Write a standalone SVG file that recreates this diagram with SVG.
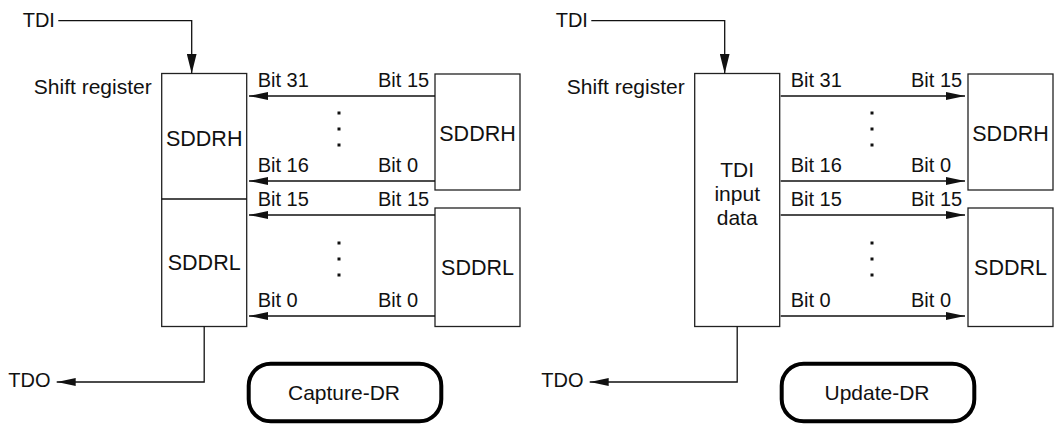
<svg xmlns="http://www.w3.org/2000/svg" width="1060" height="434" viewBox="0 0 1060 434">
<style>
text{font-family:"Liberation Sans",Arial,sans-serif;font-size:20px;fill:#111}
.big{font-size:21.5px}
.m{font-size:21px}
.box{fill:#fff;stroke:#222;stroke-width:1.3}
.ln{fill:none;stroke:#111;stroke-width:1.3}
.state{fill:#fff;stroke:#000;stroke-width:4}
.mid{text-anchor:middle}
.end{text-anchor:end}
</style>
<defs>
<marker id="ah" markerUnits="userSpaceOnUse" markerWidth="19" markerHeight="8" refX="19" refY="4" orient="auto">
<path d="M0,0 L19,4 L0,8 Z" fill="#111"/>
</marker>
<marker id="ahv" markerUnits="userSpaceOnUse" markerWidth="20" markerHeight="10" refX="20" refY="5" orient="auto">
<path d="M0,0 L20,5 L0,10 Z" fill="#111"/>
</marker>
</defs>

<!-- Left panel: Capture-DR -->
<g id="left-panel">
<g id="L-tdi"><text x="22.7" y="26.5">TDI</text></g>
<g id="L-tdo"><text x="8.3" y="387.3">TDO</text></g>
<g id="L-shift">
<text class="end m" x="151.7" y="94">Shift register</text>
<rect class="box" x="161.7" y="73.5" width="85" height="253"/>
<line class="ln" x1="161.7" y1="199" x2="246.7" y2="199"/>
<text class="big mid" x="204.2" y="145.5">SDDRH</text>
<text class="big mid" x="204.2" y="270">SDDRL</text>
</g>
<g id="L-sddrh"><rect class="box" x="435" y="74" width="85" height="116"/><text class="big mid" x="477.5" y="140.5">SDDRH</text></g>
<g id="L-sddrl"><rect class="box" x="435" y="208" width="85" height="118.5"/><text class="big mid" x="477.5" y="275">SDDRL</text></g>
<g id="L-state"><rect class="state" x="248.7" y="363.7" width="192.6" height="57.6" rx="22"/><text class="mid m" x="344" y="400">Capture-DR</text></g>
<g id="L-connectors">
<path class="ln" d="M58.3,20.7 H191.7 V73.5" marker-end="url(#ahv)"/>
<path class="ln" d="M204.2,326.5 V382 H56.7" marker-end="url(#ah)"/>
<line class="ln" x1="435" y1="96" x2="249" y2="96" marker-end="url(#ah)"/>
<line class="ln" x1="435" y1="181" x2="249" y2="181" marker-end="url(#ah)"/>
<line class="ln" x1="435" y1="215" x2="249" y2="215" marker-end="url(#ah)"/>
<line class="ln" x1="435" y1="316" x2="249" y2="316" marker-end="url(#ah)"/>
</g>
<g id="L-labels">
<text x="257.7" y="87">Bit 31</text><text x="378" y="87">Bit 15</text>
<text x="257.7" y="172">Bit 16</text><text x="378" y="172">Bit 0</text>
<text x="257.7" y="206">Bit 15</text><text x="378" y="206">Bit 15</text>
<text x="257.7" y="307">Bit 0</text><text x="378" y="307">Bit 0</text>
<g fill="#111"><rect x="337.5" y="111.5" width="3" height="3"/><rect x="337.5" y="127.5" width="3" height="3"/><rect x="337.5" y="143.5" width="3" height="3"/>
<rect x="337.5" y="241.5" width="3" height="3"/><rect x="337.5" y="257.5" width="3" height="3"/><rect x="337.5" y="273.5" width="3" height="3"/></g>
</g>
</g>

<!-- Right panel: Update-DR -->
<g id="right-panel" transform="translate(533,0)">
<g id="R-tdi"><text x="22.7" y="26.5">TDI</text></g>
<g id="R-tdo"><text x="8.3" y="387.3">TDO</text></g>
<g id="R-shift">
<text class="end m" x="151.7" y="94">Shift register</text>
<rect class="box" x="161.7" y="73.5" width="85" height="253"/>
<text class="mid m" x="204.2" y="177">TDI</text>
<text class="mid m" x="204.2" y="201">input</text>
<text class="mid m" x="204.2" y="225">data</text>
</g>
<g id="R-sddrh"><rect class="box" x="435" y="74" width="85" height="116"/><text class="big mid" x="477.5" y="140.5">SDDRH</text></g>
<g id="R-sddrl"><rect class="box" x="435" y="208" width="85" height="118.5"/><text class="big mid" x="477.5" y="275">SDDRL</text></g>
<g id="R-state"><rect class="state" x="248.7" y="363.7" width="192.6" height="57.6" rx="22"/><text class="mid m" x="344" y="400">Update-DR</text></g>
<g id="R-connectors">
<path class="ln" d="M58.3,20.7 H191.7 V73.5" marker-end="url(#ahv)"/>
<path class="ln" d="M204.2,326.5 V382 H56.7" marker-end="url(#ah)"/>
<line class="ln" x1="247.7" y1="96" x2="432" y2="96" marker-end="url(#ah)"/>
<line class="ln" x1="247.7" y1="181" x2="432" y2="181" marker-end="url(#ah)"/>
<line class="ln" x1="247.7" y1="215" x2="432" y2="215" marker-end="url(#ah)"/>
<line class="ln" x1="247.7" y1="316" x2="432" y2="316" marker-end="url(#ah)"/>
</g>
<g id="R-labels">
<text x="257.7" y="87">Bit 31</text><text x="378" y="87">Bit 15</text>
<text x="257.7" y="172">Bit 16</text><text x="378" y="172">Bit 0</text>
<text x="257.7" y="206">Bit 15</text><text x="378" y="206">Bit 15</text>
<text x="257.7" y="307">Bit 0</text><text x="378" y="307">Bit 0</text>
<g fill="#111"><rect x="337.5" y="111.5" width="3" height="3"/><rect x="337.5" y="127.5" width="3" height="3"/><rect x="337.5" y="143.5" width="3" height="3"/>
<rect x="337.5" y="241.5" width="3" height="3"/><rect x="337.5" y="257.5" width="3" height="3"/><rect x="337.5" y="273.5" width="3" height="3"/></g>
</g>
</g>
</svg>
